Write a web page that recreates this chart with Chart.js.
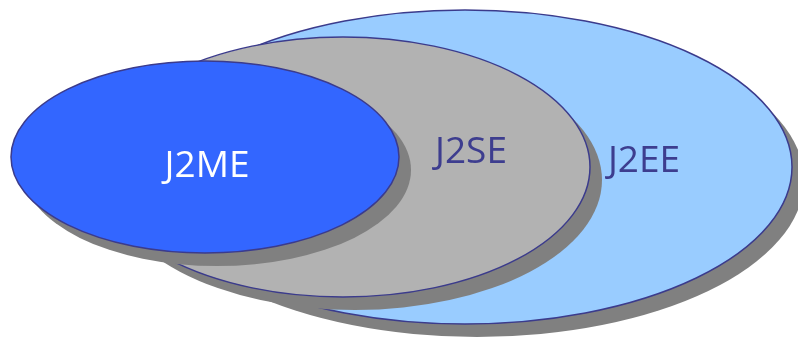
<!DOCTYPE html>
<html>
<head>
<meta charset="utf-8">
<script src="https://cdn.jsdelivr.net/npm/chart.js@4"></script>
<style>
  html, body { margin: 0; padding: 0; background: #fff; }
  #wrap { width: 798px; height: 338px; }
</style>
</head>
<body>
<div id="wrap"><canvas id="vennChart"></canvas></div>
<script>
// outer to inner
const labels = ['J2EE', 'J2SE', 'J2ME'];
const centerX = [465, 343, 205];
const centerY = [167, 167, 157];
const radiusX = [327, 247, 194];
const radiusY = [157, 130, 96];
const labelX = [644, 471, 207];
const labelY = [161, 152, 166];

const fills = ['#99CCFF', '#B2B2B2', '#3366FF'];
const textColors = ['#3D3D8F', '#3D3D8F', '#FFFFFF'];

const ellipsePlugin = {
    id: 'ellipses',
    beforeDatasetsDraw(chart) {
        const ctx = chart.ctx;
        const xs = chart.scales.x;
        const ys = chart.scales.y;
        ctx.save();
        for (let i = 0; i < labels.length; i++) {
            const px = xs.getPixelForValue(centerX[i]);
            const py = ys.getPixelForValue(centerY[i]);
            const rx = Math.abs(xs.getPixelForValue(centerX[i] + radiusX[i]) - px);
            const ry = Math.abs(ys.getPixelForValue(centerY[i] + radiusY[i]) - py);

            // shadow
            ctx.beginPath();
            ctx.ellipse(px + 12, py + 13, rx, ry, 0, 0, Math.PI * 2);
            ctx.fillStyle = '#808080';
            ctx.fill();

            ctx.beginPath();
            ctx.ellipse(px, py, rx, ry, 0, 0, Math.PI * 2);
            ctx.fillStyle = fills[i];
            ctx.fill();
            ctx.lineWidth = 1.5;
            ctx.strokeStyle = '#3B3B8C';
            ctx.stroke();
        }
        ctx.restore();
    },
    afterDatasetsDraw(chart) {
        const ctx = chart.ctx;
        const xs = chart.scales.x;
        const ys = chart.scales.y;
        ctx.save();
        ctx.font = '37px "Open Sans", sans-serif';
        ctx.textAlign = 'center';
        ctx.textBaseline = 'middle';
        for (let i = 0; i < labels.length; i++) {
            ctx.fillStyle = textColors[i];
            ctx.fillText(labels[i], xs.getPixelForValue(labelX[i]), ys.getPixelForValue(labelY[i]));
        }
        ctx.restore();
    }
};

new Chart(document.getElementById('vennChart'), {
    type: 'scatter',
    data: {
        labels: labels,
        datasets: [{
            data: labels.map((l, i) => ({ x: centerX[i], y: centerY[i] })),
            pointRadius: 0
        }]
    },
    options: {
        responsive: true,
        maintainAspectRatio: false,
        animation: false,
        layout: { padding: 0 },
        scales: {
            x: { display: false, min: 0, max: 798 },
            y: { display: false, min: 0, max: 338, reverse: true }
        },
        plugins: {
            legend: { display: false },
            tooltip: { enabled: false }
        }
    },
    plugins: [ellipsePlugin]
});
</script>
</body>
</html>
